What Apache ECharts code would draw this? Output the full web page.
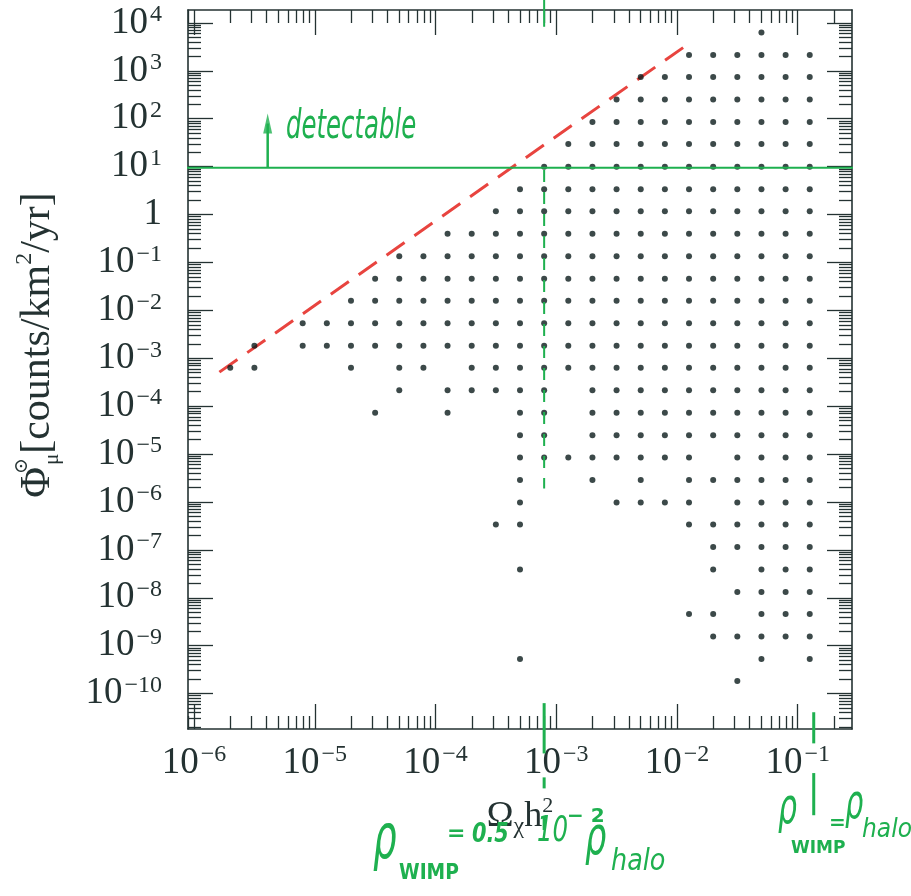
<!DOCTYPE html>
<html>
<head>
<meta charset="utf-8">
<script src="https://cdn.jsdelivr.net/npm/echarts@6/dist/echarts.min.js"></script>
<style>html,body{margin:0;padding:0;background:#fff}#c{width:911px;height:896px}</style>
</head>
<body>
<div id="c"></div>
<script>
// ---- data (log10 exponents) ----
// Omega_chi h^2 grid columns (log10)
const omegaExp = [-5.7,-5.5,-5.3,-5.1,-4.9,-4.7,-4.5,-4.3,-4.1,-3.9,-3.7,-3.5,-3.3,-3.1,-2.9,-2.7,-2.5,-2.3,-2.1,-1.9,-1.7,-1.5,-1.3,-1.1,-0.9];
// muon flux grid rows (log10), top to bottom
const phiExp = [3.80,3.33,2.87,2.40,1.93,1.47,1.00,0.53,0.07,-0.40,-0.87,-1.34,-1.80,-2.27,-2.74,-3.20,-3.67,-4.14,-4.61,-5.07,-5.54,-6.01,-6.47,-6.94,-7.41,-7.88,-8.34,-8.81,-9.28,-9.74];
// occupancy of each row ('o' = model point present in that column)
const rowPattern = [
  "......................o..",
  "...................oooooo",
  ".................oooooooo",
  "................ooooooooo",
  "...............oooooooooo",
  "..............ooooooooooo",
  ".............oooooooooooo",
  "............ooooooooooooo",
  "...........oooooooooooooo",
  ".........oooooooooooooooo",
  ".......oooooooooooooooooo",
  "......ooooooooooooooooooo",
  ".....oooooooooooooooooooo",
  "...oooooooooooooooooooooo",
  ".o.oooooooooooooooooooooo",
  "oo...o.oo.ooooooooooooooo",
  ".......o.ooooo.oooooooooo",
  "......o..o..oo.oooooooooo",
  "............oo.oooooooooo",
  "............oooooooo.oooo",
  "............o..o.o.oooooo",
  "............o...oooo.oooo",
  "...........oo......oooooo",
  "....................ooooo",
  "............o.......o.ooo",
  ".....................oooo",
  "...................oo.ooo",
  "....................ooooo",
  "............o.........o.o",
  ".....................o..."
];
// red dashed boundary (log10 endpoints)
const boundaryOmegaExp = [-5.79, -1.94];
const boundaryPhiExp = [-3.29, 3.50];
// detectability threshold (log10 of 10 counts/km^2/yr as drawn)
const detectPhiExp = 0.975;
const detectOmegaSpan = [-6.20, -0.06];
// rho_WIMP = 0.5e-2 rho_halo marker
const halfPercentOmegaExp = -3.10;
const halfPercentPhiSpan = [0.93, -5.72];
// small marker strokes outside the frame (x, y from, y to) in log10
const strokeX     = [-3.10, -3.10, -3.10, -3.10, -0.867, -0.867];
const strokeYFrom = [4.48, -10.20, -11.75, -12.58, -10.39, -11.66];
const strokeYTo   = [3.92, -11.25, -11.98, -12.85, -11.04, -12.54];
// arrow for "detectable"
const arrowOmegaExp = -5.39;
const arrowPhiSpan = [0.98, 1.90];
// axis decades / tick labels
const xDecades = [-6,-5,-4,-3,-2,-1];
const yDecades = [4,3,2,1,0,-1,-2,-3,-4,-5,-6,-7,-8,-9,-10];
const minorMantissas = [2,3,4,5,6,7,8,9];

const X_MIN = -6.05, X_MAX = -0.55, Y_MIN = -10.74, Y_MAX = 4.27;

const INK = '#243232';
const GREEN = '#1eb04f';
const RED = '#e8443f';
const SERIF = '"Liberation Serif","DejaVu Serif",serif';
const HAND = '"DejaVu Sans",sans-serif';

function minorTicks(min, max) {
  const out = [];
  for (let d = Math.floor(min) - 1; d <= Math.ceil(max); d++) {
    for (const k of minorMantissas) {
      const v = d + Math.log10(k);
      if (v > min && v < max) out.push(+v.toFixed(5));
    }
  }
  return out;
}
function powLabel(v) {
  const n = Math.round(v);
  if (n === 0) return '{b|1}';
  return '{b|10}{g|}{s|' + (n < 0 ? '\u2212' : '') + Math.abs(n) + '}';
}
const labelRich = {
  b: {fontFamily: SERIF, fontSize: 37, lineHeight: 40, color: INK},
  g: {width: 2},
  s: {fontFamily: SERIF, fontSize: 24, lineHeight: 24, verticalAlign: 'top', color: INK}
};
const xMinor = minorTicks(X_MIN, X_MAX);
const yMinor = minorTicks(Y_MIN, Y_MAX);

function axis(pos, min, max, ticks, len, showLine, label) {
  const a = {
    type: 'value', gridIndex: 0, position: pos, min: min, max: max,
    axisLine: {show: showLine, onZero: false, lineStyle: {color: INK, width: 1.6}},
    axisTick: {show: true, inside: true, length: len, customValues: ticks, lineStyle: {color: INK, width: 1.3}},
    axisLabel: {show: false},
    splitLine: {show: false}, splitArea: {show: false}, minorTick: {show: false}
  };
  if (label) {
    a.axisLabel = Object.assign({show: true, customValues: ticks, formatter: powLabel, rich: labelRich}, label);
  }
  return a;
}

const xAxes = [
  axis('bottom', X_MIN, X_MAX, xDecades, 25, true, {margin: 14}),
  axis('bottom', X_MIN, X_MAX, xMinor, 13, false, null),
  axis('top', X_MIN, X_MAX, xDecades, 25, true, null),
  axis('top', X_MIN, X_MAX, xMinor, 13, false, null)
];
xAxes[0].name = '{o|\u03A9}{c|\u03C7}{h|h}{s|2}';
xAxes[0].nameLocation = 'middle';
xAxes[0].nameGap = 66;
xAxes[0].nameTextStyle = {
  rich: {
    o: {fontFamily: SERIF, fontSize: 36, color: INK, lineHeight: 44},
    c: {fontFamily: SERIF, fontSize: 24, color: INK, verticalAlign: 'bottom', lineHeight: 24},
    h: {fontFamily: SERIF, fontSize: 36, color: INK, lineHeight: 44},
    s: {fontFamily: SERIF, fontSize: 22, color: INK, verticalAlign: 'top', lineHeight: 22}
  }
};
const yAxes = [
  axis('left', Y_MIN, Y_MAX, yDecades, 25, true, {margin: 26}),
  axis('left', Y_MIN, Y_MAX, yMinor, 13, false, null),
  axis('right', Y_MIN, Y_MAX, yDecades, 25, true, null),
  axis('right', Y_MIN, Y_MAX, yMinor, 13, false, null)
];

// model points
const points = [];
rowPattern.forEach((row, r) => {
  for (let c = 0; c < row.length; c++) {
    if (row[c] === 'o') points.push([omegaExp[c], phiExp[r]]);
  }
});

const series = [
  {
    name: 'models', type: 'scatter', data: points, symbol: 'circle', symbolSize: 6,
    itemStyle: {color: '#0b1c1c'}, z: 5, silent: true
  },
  {
    name: 'boundary', type: 'line', showSymbol: false, symbol: 'none',
    data: [[boundaryOmegaExp[0], boundaryPhiExp[0]], [boundaryOmegaExp[1], boundaryPhiExp[1]]],
    lineStyle: {color: RED, width: 3, type: [22, 12], cap: 'butt'}, z: 4, silent: true
  },
  {
    name: 'detectable', type: 'line', symbol: 'none', clip: false,
    data: [[detectOmegaSpan[0], detectPhiExp], [detectOmegaSpan[1], detectPhiExp]],
    lineStyle: {color: GREEN, width: 2}, z: 6, silent: true
  },
  {
    name: 'half percent halo', type: 'line', symbol: 'none', clip: false,
    data: [[halfPercentOmegaExp, halfPercentPhiSpan[0]], [halfPercentOmegaExp, halfPercentPhiSpan[1]]],
    lineStyle: {color: GREEN, width: 2, type: [12, 10]}, z: 6, silent: true
  },
  {
    name: 'arrow shaft', type: 'line', symbol: 'none', clip: false,
    data: [[arrowOmegaExp, arrowPhiSpan[0]], [arrowOmegaExp, arrowPhiSpan[1]]],
    lineStyle: {color: GREEN, width: 2.5}, z: 6, silent: true
  },
  {
    name: 'arrow head', type: 'scatter', clip: false, symbol: 'triangle', symbolSize: [9, 20],
    data: [[arrowOmegaExp, arrowPhiSpan[1]]], itemStyle: {color: GREEN}, z: 6, silent: true
  }
];
for (let i = 0; i < strokeX.length; i++) {
  series.push({
    name: 'marker stroke ' + i, type: 'line', symbol: 'none', clip: false,
    data: [[strokeX[i], strokeYFrom[i]], [strokeX[i], strokeYTo[i]]],
    lineStyle: {color: GREEN, width: i === 0 ? 2 : 3}, z: 7, silent: true
  });
}

function handText(x, y, text, size, opts) {
  return Object.assign({
    type: 'text', x: x, y: y, z: 100,
    style: Object.assign({
      text: text, fill: GREEN, fontFamily: HAND, fontSize: size, fontStyle: 'italic',
      align: 'left', verticalAlign: 'middle'
    }, (opts && opts.style) || {})
  }, (opts && opts.el) || {});
}

const option = {
  animation: false,
  backgroundColor: '#ffffff',
  grid: {left: 188, right: 59, top: 10, bottom: 167, containLabel: false},
  xAxis: xAxes,
  yAxis: yAxes,
  series: series,
  graphic: [
    {
      type: 'text', x: 38, y: 345, rotation: Math.PI / 2, z: 100,
      style: {
        text: '{p|\u03A6}{o|\u2299}{m|\u03BC}{t|[counts/km}{q|2}{t|/yr]}',
        align: 'center', verticalAlign: 'middle', fill: INK,
        rich: {
          p: {fontFamily: SERIF, fontSize: 42, fill: INK, lineHeight: 50},
          o: {fontFamily: SERIF, fontSize: 19, fill: INK, verticalAlign: 'top', lineHeight: 19, width: 2},
          m: {fontFamily: SERIF, fontSize: 21, fill: INK, verticalAlign: 'bottom', lineHeight: 21},
          t: {fontFamily: SERIF, fontSize: 42, fill: INK, lineHeight: 50},
          q: {fontFamily: SERIF, fontSize: 24, fill: INK, verticalAlign: 'top', lineHeight: 24}
        }
      }
    },
    handText(286, 128, 'detectable', 40, {el: {scaleX: 0.61}}),
    // rho_WIMP = 0.5 10^-2 rho_halo
    handText(373, 842, '\u03C1', 62, {el: {scaleX: 0.6}}),
    handText(399, 873, 'WIMP', 22, {style: {fontWeight: 'bold', fontStyle: 'normal'}, el: {scaleX: 0.85}}),
    handText(447, 834, '=', 22, {style: {fontWeight: 'bold'}}),
    handText(472, 835, '0.5', 26, {style: {fontWeight: 'bold'}, el: {scaleX: 0.8}}),
    handText(537, 832, '10', 36, {el: {scaleX: 0.68}}),
    handText(567, 817, '\u2212 2', 20, {style: {fontWeight: 'bold', fontStyle: 'normal'}}),
    handText(585, 840, '\u03C1', 54, {el: {scaleX: 0.62}}),
    handText(611, 862, 'halo', 30, {el: {scaleX: 0.85}}),
    // rho_WIMP = rho_halo
    handText(778, 810, '\u03C1', 50, {el: {scaleX: 0.6}}),
    handText(791, 849, 'WIMP', 17, {style: {fontWeight: 'bold', fontStyle: 'normal'}}),
    handText(829, 824, '=', 20, {style: {fontWeight: 'bold'}}),
    handText(845, 806, '\u03C1', 48, {el: {scaleX: 0.6}}),
    handText(862, 830, 'halo', 26, {el: {scaleX: 0.9}})
  ]
};

const chart = echarts.init(document.getElementById('c'), null, {renderer: 'canvas'});
chart.setOption(option);
</script>
</body>
</html>
